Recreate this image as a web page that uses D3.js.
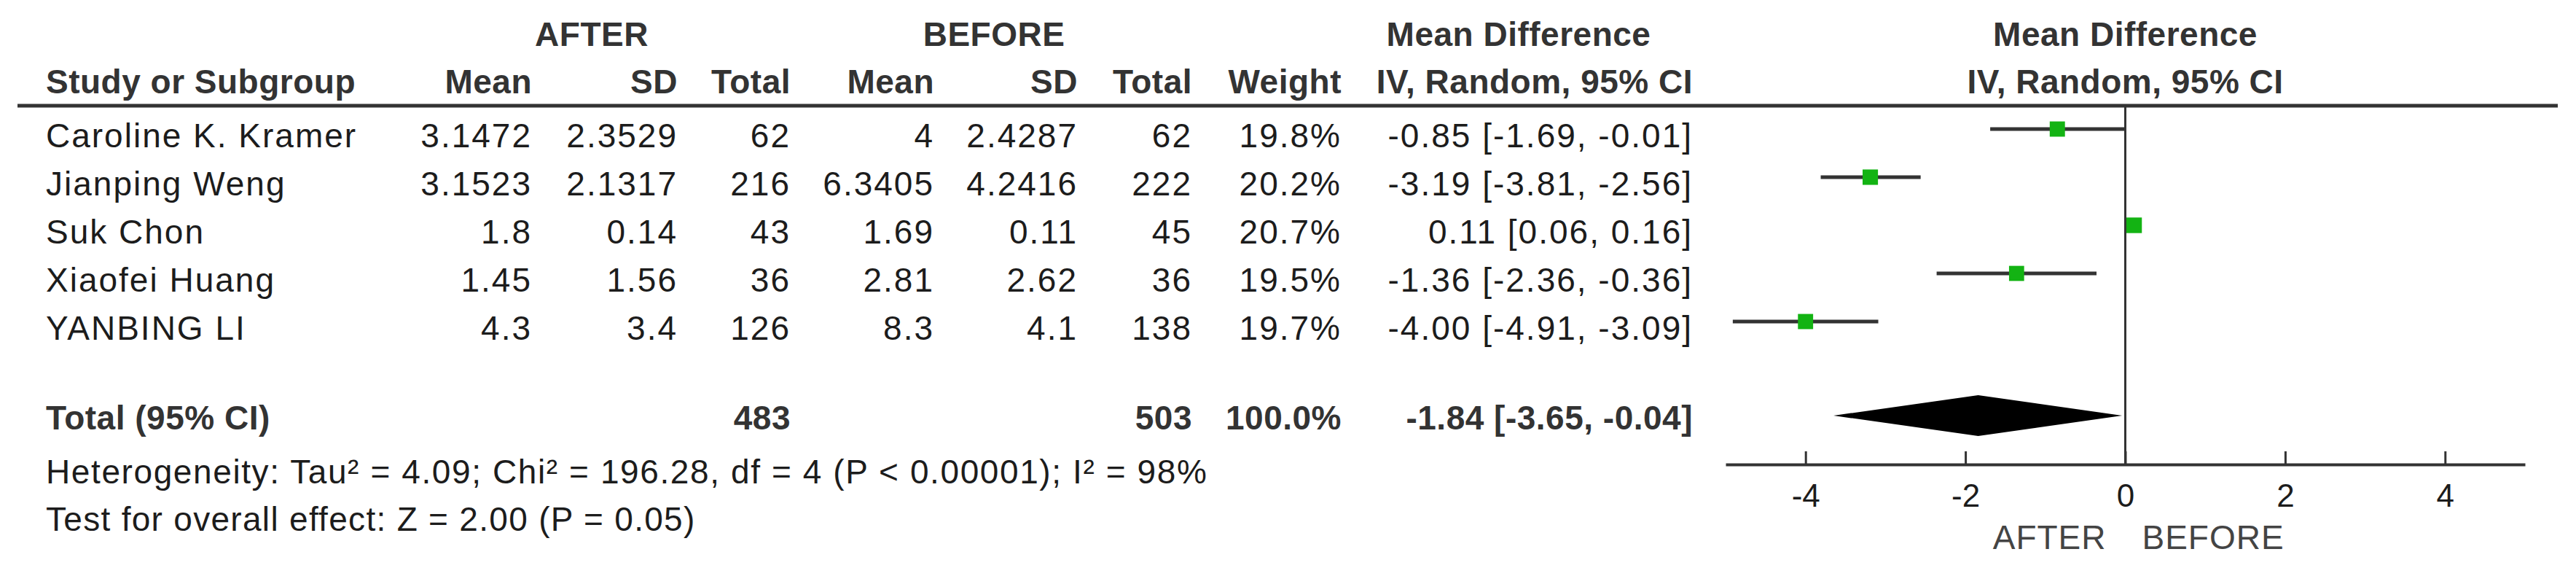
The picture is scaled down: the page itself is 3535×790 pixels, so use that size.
<!DOCTYPE html>
<html lang="en">
<head>
<meta charset="UTF-8">
<title>Forest plot</title>
<script src="https://cdn.jsdelivr.net/npm/d3@7"></script>
<style>
  body { margin: 0; background: #fff; }
  svg text { font-family: "Liberation Sans", Arial, sans-serif; }
</style>
</head>
<body>
<svg width="3535" height="790"></svg>
<script>
// study data
var studies = ['Caroline K. Kramer', 'Jianping Weng', 'Suk Chon', 'Xiaofei Huang', 'YANBING LI'];
var afterMean = [3.1472, 3.1523, 1.8, 1.45, 4.3];
var afterSD = [2.3529, 2.1317, 0.14, 1.56, 3.4];
var afterTotal = [62, 216, 43, 36, 126];
var beforeMean = [4, 6.3405, 1.69, 2.81, 8.3];
var beforeSD = [2.4287, 4.2416, 0.11, 2.62, 4.1];
var beforeTotal = [62, 222, 45, 36, 138];
var weights = [19.8, 20.2, 20.7, 19.5, 19.7];
var md = [-0.85, -3.19, 0.11, -1.36, -4.00];
var ciLow = [-1.69, -3.81, 0.06, -2.36, -4.91];
var ciHigh = [-0.01, -2.56, 0.16, -0.36, -3.09];

// pooled
var totalAfter = 483, totalBefore = 503, totalWeight = 100.0;
var pooled = [-1.84, -3.65, -0.04];  // estimate, low, high
var heterogeneity = 'Heterogeneity: Tau\u00b2 = 4.09; Chi\u00b2 = 196.28, df = 4 (P < 0.00001); I\u00b2 = 98%';
var overallTest = 'Test for overall effect: Z = 2.00 (P = 0.05)';
var xTicks = [-4, -2, 0, 2, 4];

var svg = d3.select('svg');
var dark = '#1c1c1c', head = '#333';

// column right edges
var cols = {aMean: 730, aSD: 930, aTot: 1085, bMean: 1282, bSD: 1479, bTot: 1636, w: 1841, ci: 2323};

var x = d3.scaleLinear().domain([-5, 5]).range([2368, 3465]);
var rowY = d3.scaleLinear().domain([0, 1]).range([202, 268]);   // text baselines
var sizeScale = d3.scaleSqrt().domain([0, 20]).range([0, 21]);

function txt(xp, yp, s, anchor, bold, color, size) {
  return svg.append('text')
    .attr('x', xp).attr('y', yp)
    .attr('text-anchor', anchor || 'start')
    .attr('font-size', size || 46)
    .attr('font-weight', bold ? 'bold' : 'normal')
    .attr('letter-spacing', bold ? 0.5 : 2)
    .attr('fill', color || dark)
    .text(s);
}

// group headers
txt(812, 63, 'AFTER', 'middle', true, head);
txt(1364, 63, 'BEFORE', 'middle', true, head);
txt(2084, 63, 'Mean Difference', 'middle', true, head);
txt(x(0), 63, 'Mean Difference', 'middle', true, head);

// column headers
txt(63, 128, 'Study or Subgroup', 'start', true, head);
[['aMean', 'Mean'], ['aSD', 'SD'], ['aTot', 'Total'], ['bMean', 'Mean'], ['bSD', 'SD'], ['bTot', 'Total'], ['w', 'Weight'], ['ci', 'IV, Random, 95% CI']]
  .forEach(function(c) { txt(cols[c[0]], 128, c[1], 'end', true, head); });
txt(x(0), 128, 'IV, Random, 95% CI', 'middle', true, head);

svg.append('line').attr('x1', 24).attr('x2', 3510).attr('y1', 145).attr('y2', 145)
  .attr('stroke', head).attr('stroke-width', 5);

// study rows
function ciText(m, l, h) { return m.toFixed(2) + ' [' + l.toFixed(2) + ', ' + h.toFixed(2) + ']'; }

studies.forEach(function(s, i) {
  var y = rowY(i);
  txt(63, y, s);
  txt(cols.aMean, y, String(afterMean[i]), 'end');
  txt(cols.aSD, y, String(afterSD[i]), 'end');
  txt(cols.aTot, y, String(afterTotal[i]), 'end');
  txt(cols.bMean, y, String(beforeMean[i]), 'end');
  txt(cols.bSD, y, String(beforeSD[i]), 'end');
  txt(cols.bTot, y, String(beforeTotal[i]), 'end');
  txt(cols.w, y, weights[i].toFixed(1) + '%', 'end');
  txt(cols.ci, y, ciText(md[i], ciLow[i], ciHigh[i]), 'end');
});

// total row
var totY = 589;
txt(63, totY, 'Total (95% CI)', 'start', true, head);
txt(cols.aTot, totY, String(totalAfter), 'end', true, head);
txt(cols.bTot, totY, String(totalBefore), 'end', true, head);
txt(cols.w, totY, totalWeight.toFixed(1) + '%', 'end', true, head);
txt(cols.ci, totY, ciText(pooled[0], pooled[1], pooled[2]), 'end', true, head);

txt(63, 663, heterogeneity).attr('letter-spacing', 1.6);
txt(63, 728, overallTest).attr('letter-spacing', 1.3);

// plot: zero line
var axisY = 637;
svg.append('line').attr('x1', x(0)).attr('x2', x(0)).attr('y1', 145).attr('y2', axisY)
  .attr('stroke', head).attr('stroke-width', 3);

// whiskers + squares
var plot = svg.append('g');
plot.selectAll('line.ci').data(studies).enter().append('line')
  .attr('class', 'ci')
  .attr('x1', function(d, i) { return x(ciLow[i]); })
  .attr('x2', function(d, i) { return x(ciHigh[i]); })
  .attr('y1', function(d, i) { return rowY(i) - 25; })
  .attr('y2', function(d, i) { return rowY(i) - 25; })
  .attr('stroke', head).attr('stroke-width', 5);

plot.selectAll('rect').data(studies).enter().append('rect')
  .attr('x', function(d, i) { return x(md[i]) - sizeScale(weights[i]) / 2; })
  .attr('y', function(d, i) { return rowY(i) - 25 - sizeScale(weights[i]) / 2; })
  .attr('width', function(d, i) { return sizeScale(weights[i]); })
  .attr('height', function(d, i) { return sizeScale(weights[i]); })
  .attr('fill', '#13b313');

// pooled diamond
var dY = 570, dH = 28;
svg.append('path')
  .attr('d', d3.line()([[x(pooled[1]), dY], [x(pooled[0]), dY - dH], [x(pooled[2]), dY], [x(pooled[0]), dY + dH]]) + 'Z')
  .attr('fill', '#000');

// axis
var axis = d3.axisBottom(x).tickValues(xTicks).tickSizeInner(-18).tickSizeOuter(0).tickPadding(27)
  .tickFormat(function(d) { return d; });
var ax = svg.append('g').attr('transform', 'translate(0,' + axisY + ')').call(axis);
ax.select('.domain').attr('stroke', head).attr('stroke-width', 4);
ax.selectAll('.tick line').attr('stroke', head).attr('stroke-width', 3);
ax.selectAll('.tick text').attr('font-size', 44).attr('fill', dark)
  .attr('font-family', '"Liberation Sans", Arial, sans-serif');

// favours labels
txt(x(0) - 26, 753, 'AFTER', 'end', false, '#444').attr('letter-spacing', 1);
txt(x(0) + 23, 753, 'BEFORE', 'start', false, '#444').attr('letter-spacing', 1);
</script>
</body>
</html>
